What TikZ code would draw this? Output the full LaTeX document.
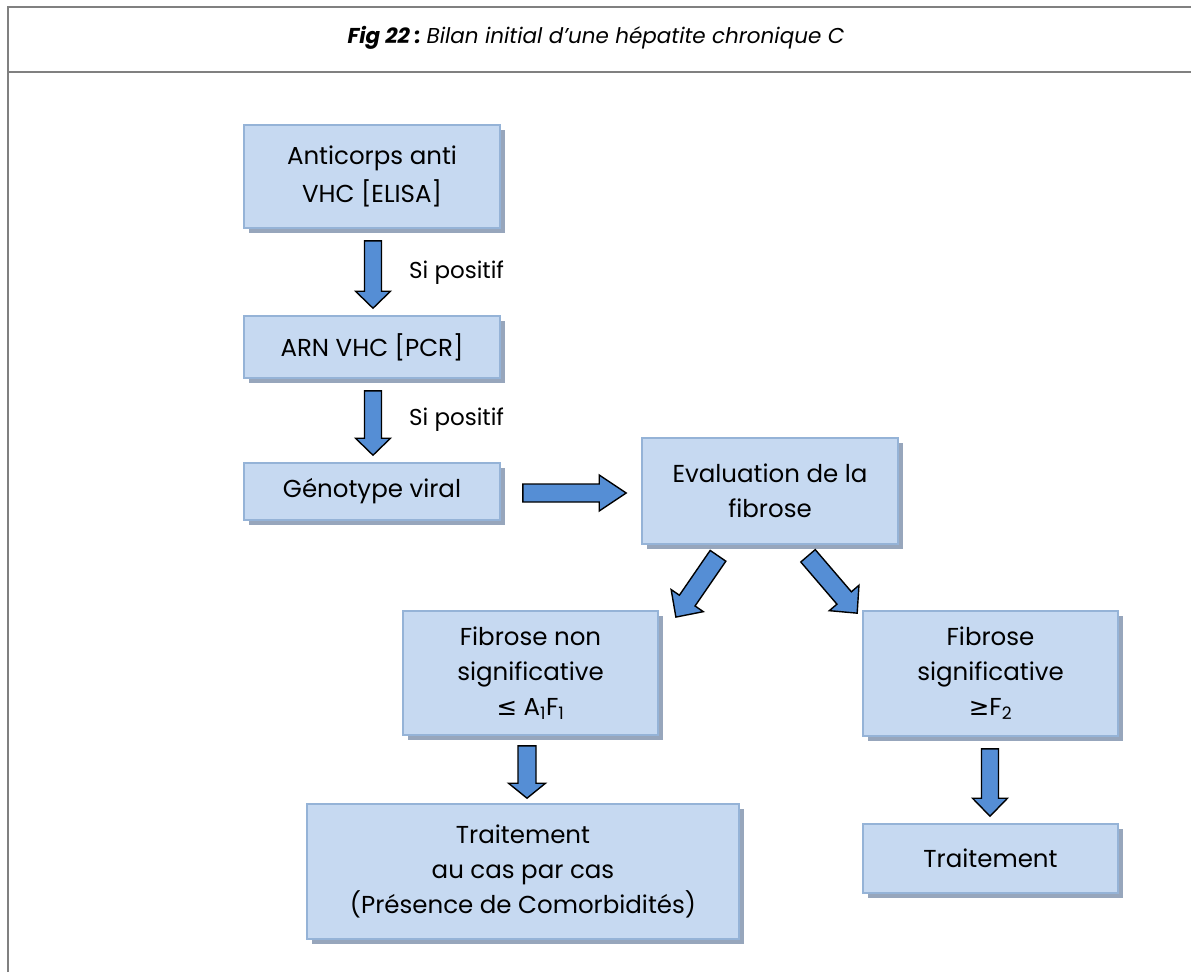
\documentclass[tikz,border=0pt]{standalone}
\usepackage{fontspec}
\setmainfont{Poppins}
\newfontfamily\symfont{DejaVu Sans}
\usetikzlibrary{calc,shadows}
\definecolor{boxfill}{HTML}{C6D9F1}
\definecolor{boxline}{HTML}{95B3D7}
\definecolor{boxshadow}{HTML}{97A6BC}
\definecolor{arrowfill}{HTML}{558ED5}
\definecolor{framegray}{HTML}{808080}
\tikzset{
  stepbox/.style={draw=boxline, line width=1.6pt, fill=boxfill, align=center,
    inner sep=0pt, font=\fontsize{24.5}{35}\selectfont,
    general shadow={fill=boxshadow, shadow xshift=4.5pt, shadow yshift=-4.5pt}},
  blockarrow/.style={draw=black, fill=arrowfill, line width=1.4pt, line join=miter},
  cond/.style={anchor=west, inner sep=0pt, font=\fontsize{23}{26}\selectfont},
  framerule/.style={draw=framegray, line width=2pt}
}
% block arrow from #1 to #2: shaft half width #3, head half width #4, head length #5
\newcommand\blockarrow[5]{%
  \draw[blockarrow] let \p1=($(#2)-(#1)$), \n1={atan2(\y1,\x1)}, \n2={veclen(\x1,\y1)} in
    [shift={(#1)}, rotate=\n1]
    (0pt,-#3) -- (\n2-#5,-#3) -- (\n2-#5,-#4) -- (\n2,0pt) -- (\n2-#5,#4)
    -- (\n2-#5,#3) -- (0pt,#3) -- cycle;}
\begin{document}
\begin{tikzpicture}[x=1pt,y=-1pt]
\useasboundingbox (0,0) rectangle (1191,972);
% frame and title band
\draw[framerule] (8,972) -- (8,6.5) -- (1191,6.5);
\draw[framerule] (8,72) -- (1191,72);
\node (title) at (596,38) {\fontsize{21.5}{25}\selectfont\textbf{\textit{Fig 22 :}}\ \textit{Bilan initial d’une hépatite chronique C}};

% boxes
\node[stepbox, minimum width=256pt, minimum height=103pt, font=\fontsize{24.5}{38}\selectfont] (b1) at (372,176.5) {Anticorps anti\\VHC [ELISA]};
\node[stepbox, minimum width=256pt, minimum height=62pt] (b2) at (372,347) {ARN VHC [PCR]};
\node[stepbox, minimum width=256pt, minimum height=57pt] (b3) at (372,491.5) {Génotype viral};
\node[stepbox, minimum width=256pt, minimum height=106pt] (b4) at (770,491) {Evaluation de la\\fibrose};
\node[stepbox, minimum width=255pt, minimum height=124pt] (b5) at (530.5,673) {Fibrose non\\significative\\{\symfont ≤} A\textsubscript{1}F\textsubscript{1}};
\node[stepbox, minimum width=432pt, minimum height=135pt] (b6) at (523,871.5) {Traitement\\au cas par cas\\(Présence de Comorbidités)};
\node[stepbox, minimum width=255pt, minimum height=125pt] (b7) at (990.5,673.5) {Fibrose\\significative\\{\symfont ≥}F\textsubscript{2}};
\node[stepbox, minimum width=255pt, minimum height=69pt] (b8) at (990.5,858.5) {Traitement};

% arrow end points
\coordinate (a1s) at ($(b1.south)+(1,12)$);
\coordinate (a1e) at ($(b2.north)+(1,-7)$);
\coordinate (a2s) at ($(b2.south)+(1,12)$);
\coordinate (a2e) at ($(b3.north)+(1,-7)$);
\coordinate (a3s) at ($(b3.east)+(22,1.5)$);
\coordinate (a3e) at ($(b4.west)+(-15,2)$);
\coordinate (a4s) at ($(b4.south)+(-52,11)$);
\coordinate (a4e) at ($(b5.north east)+(17,7)$);
\coordinate (a5s) at ($(b4.south)+(38,11)$);
\coordinate (a5e) at ($(b7.north west)+(-5,3)$);
\coordinate (a6s) at ($(b5.south)+(-3.5,10)$);
\coordinate (a6e) at ($(b6.north)+(4,-5)$);
\coordinate (a7s) at ($(b7.south)+(-0.5,12)$);
\coordinate (a7e) at ($(b8.north)+(-0.5,-7)$);

% connectors
\blockarrow{a1s}{a1e}{8.5pt}{17.5pt}{17pt}
\blockarrow{a2s}{a2e}{8.5pt}{17.5pt}{17pt}
\blockarrow{a3s}{a3e}{9pt}{18pt}{27pt}
\blockarrow{a4s}{a4e}{9.5pt}{19.5pt}{20pt}
\blockarrow{a5s}{a5e}{9.5pt}{19.5pt}{20pt}
\blockarrow{a6s}{a6e}{9pt}{18.5pt}{15pt}
\blockarrow{a7s}{a7e}{8.5pt}{17.5pt}{18pt}

% condition labels
\node[cond] (c1) at (409,273) {Si positif};
\node[cond] (c2) at (409,420) {Si positif};
\end{tikzpicture}
\end{document}
